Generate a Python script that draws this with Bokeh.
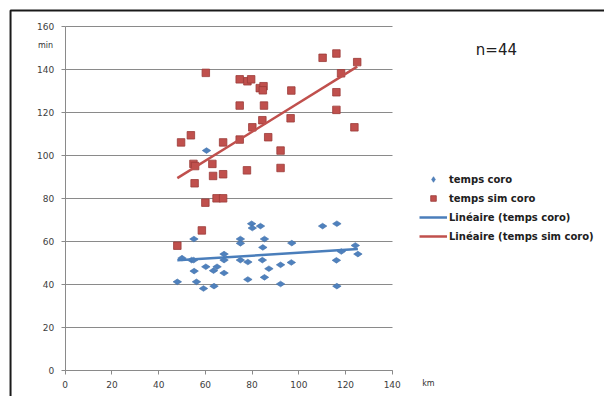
import numpy as np
from bokeh.plotting import figure
from bokeh.models import Range1d, Label, Legend, LegendItem, FixedTicker
from bokeh.embed import file_html
from bokeh.resources import INLINE

# distance (km) and time (min) for each patient
coro_km = [60.5, 48.0, 50.0, 54.1, 55.0, 55.1, 55.2, 56.2, 59.2, 60.2,
           63.7, 63.5, 65.0, 68.0, 68.0, 68.0, 75.0, 75.0, 75.0, 78.2,
           78.2, 79.8, 80.1, 83.6, 85.3, 84.6, 84.4, 85.3, 87.2, 92.2,
           92.2, 97.0, 96.8, 110.2, 116.3, 116.1, 116.3, 118.2, 124.2, 125.3]
coro_min = [102.2, 41.2, 52.2, 51.3, 51.3, 61.1, 46.2, 41.2, 38.1, 48.2,
            39.2, 46.4, 48.2, 54.1, 51.3, 45.3, 61.1, 59.1, 51.3, 50.4,
            42.3, 68.2, 66.2, 67.1, 61.1, 57.2, 51.3, 43.3, 47.3, 49.1,
            40.2, 59.2, 50.2, 67.1, 68.2, 51.2, 39.2, 55.3, 58.1, 54.1]

sim_km = [48.0, 49.6, 53.8, 54.9, 55.6, 55.4, 60.2, 60.0, 58.5, 63.0,
          63.3, 64.8, 67.6, 67.6, 67.6, 74.7, 74.7, 74.7, 77.8, 78.0,
          79.6, 80.1, 83.3, 84.9, 84.6, 84.4, 85.1, 86.9, 92.2, 92.2,
          96.5, 96.8, 110.2, 116.1, 116.1, 116.1, 118.1, 123.8, 125.0]
sim_min = [58.0, 106.0, 109.3, 96.0, 95.0, 87.0, 138.3, 78.0, 65.1, 96.0,
           90.4, 80.0, 80.0, 106.0, 91.2, 135.3, 123.1, 107.3, 93.0, 134.4,
           135.3, 113.0, 131.2, 132.1, 130.2, 116.3, 123.1, 108.4, 102.2, 94.1,
           117.2, 130.1, 145.3, 147.3, 129.3, 121.1, 138.1, 113.0, 143.3]

x_ticks = [0, 20, 40, 60, 80, 100, 120, 140]
y_ticks = [0, 20, 40, 60, 80, 100, 120, 140, 160]

BLUE = "#4F81BD"
RED = "#C0504D"


def linear_fit(xs, ys):
    xs = np.asarray(xs)
    slope, icpt = np.polyfit(xs, np.asarray(ys), 1)
    x0, x1 = xs.min(), xs.max()
    return [x0, x1], [slope * x0 + icpt, slope * x1 + icpt]


# the frame fills the canvas; axes sit at x=0 / y=0 inside it so that the
# legend and side notes can live on the same canvas
p = figure(width=604, height=396, output_backend="svg", toolbar_location=None,
           x_range=Range1d(-27.70, 230.87), y_range=Range1d(-12.08, 171.93),
           min_border=0, min_border_left=0, min_border_right=0,
           min_border_top=0, min_border_bottom=0)
p.outline_line_color = None
p.background_fill_color = "white"
p.border_fill_color = "white"

p.xaxis[0].ticker = FixedTicker(ticks=x_ticks)
p.yaxis[0].ticker = FixedTicker(ticks=y_ticks)
p.xaxis[0].bounds = (0, 140)
p.yaxis[0].bounds = (0, 160)
p.xaxis[0].fixed_location = 0
p.yaxis[0].fixed_location = 0
for ax in (p.xaxis[0], p.yaxis[0]):
    ax.axis_line_color = "#8A8A8A"
    ax.major_tick_line_color = "#8A8A8A"
    ax.major_tick_out = 4
    ax.major_tick_in = 0
    ax.minor_tick_line_color = None
    ax.major_label_text_font = "DejaVu Sans"
    ax.major_label_text_font_size = "9px"
    ax.major_label_text_color = "#404040"
p.xaxis.major_label_standoff = 6
p.yaxis.major_label_standoff = 7

p.xgrid.grid_line_color = None
p.ygrid.grid_line_color = "#8A8A8A"
p.ygrid.grid_line_width = 1
p.ygrid.bounds = (20, 160)
p.ygrid.cross_bounds = (0, 140)

# dark chart border along the left and top edges
p.line([-23.4, -23.4, 400], [-60, 167.3, 167.3], line_color="#1A1A1A",
       line_width=2)

# trend lines
bx, by = linear_fit(coro_km, coro_min)
rx, ry = linear_fit(sim_km, sim_min)

r_sim = p.scatter(sim_km, sim_min, marker="square", size=7.5,
                  fill_color=RED, line_color="#9A3B38", line_width=0.8)
r_coro = p.scatter(coro_km, coro_min, marker="diamond", angle=np.pi / 2,
                   size=8.5, fill_color=BLUE, line_color="#3F6FAA",
                   line_width=0.6)
l_coro = p.line(bx, by, line_color="#4A7EBB", line_width=2.5)
l_sim = p.line(rx, ry, line_color=RED, line_width=2.5)

legend = Legend(items=[
    LegendItem(label="temps coro", renderers=[r_coro]),
    LegendItem(label="temps sim coro", renderers=[r_sim]),
    LegendItem(label="Linéaire (temps coro)", renderers=[l_coro]),
    LegendItem(label="Linéaire (temps sim coro)", renderers=[l_sim]),
], location=(419, 153), orientation="vertical")
legend.glyph_width = 28
legend.glyph_height = 14
legend.label_height = 14
legend.spacing = 5
legend.padding = 0
legend.margin = 0
legend.label_standoff = 2
legend.border_line_color = None
legend.background_fill_alpha = 0
legend.label_text_font = "DejaVu Sans"
legend.label_text_font_style = "bold"
legend.label_text_font_size = "10px"
legend.label_text_color = "#202020"
p.add_layout(legend, "center")

p.add_layout(Label(x=-8.4, y=151, text="min", text_font="DejaVu Sans",
                   text_font_size="8px", text_color="#303030",
                   text_align="center", text_baseline="middle"))
p.add_layout(Label(x=155.5, y=-6, text="km", text_font="DejaVu Sans",
                   text_font_size="8px", text_color="#303030",
                   text_align="center", text_baseline="middle"))
p.add_layout(Label(x=184.6, y=148.7, text="n=44", text_font="DejaVu Sans",
                   text_font_size="15px", text_color="#202020",
                   text_align="center", text_baseline="middle"))

open("out.html", "w").write(file_html(p, INLINE))
